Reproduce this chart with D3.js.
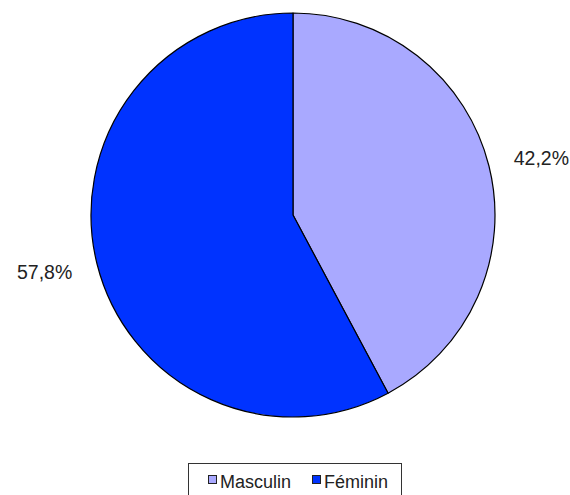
<!DOCTYPE html>
<html><head><meta charset="utf-8">
<script src="https://cdn.jsdelivr.net/npm/d3@7"></script>
<style>body{margin:0;background:#fff}svg{display:block}</style>
</head><body>
<script>
const categories = ["Masculin", "Féminin"];
const values = [42.2, 57.8];
const labels = ["42,2%", "57,8%"];
const colors = ["#a9a9ff", "#0033ff"];

const W = 570, H = 495, cx = 293, cy = 215, R = 202;
const svg = d3.select("body").append("svg").attr("width", W).attr("height", H);
const g = svg.append("g").attr("transform", `translate(${cx},${cy})`);
const data = categories.map((c, i) => ({cat: c, v: values[i], label: labels[i], color: colors[i]}));
const pie = d3.pie().sort(null).value(d => d.v);
const arcs = pie(data);
const arc = d3.arc().innerRadius(0).outerRadius(R);
g.selectAll("path").data(arcs).join("path")
  .attr("d", arc).attr("fill", d => d.data.color)
  .attr("stroke", "#000").attr("stroke-width", 1.2).attr("stroke-linejoin", "round");
const labelArc = d3.arc().innerRadius(256).outerRadius(256);
g.selectAll("text.lbl").data(arcs).join("text").attr("class", "lbl")
  .attr("transform", d => { const [x, y] = labelArc.centroid(d); return `translate(${x},${y * 0.92})`; })
  .attr("text-anchor", "middle").attr("dominant-baseline", "central")
  .attr("font-family", "Liberation Sans, Arial, sans-serif").attr("font-size", 19.5)
  .attr("fill", "#222").text(d => d.data.label);

// legend
const lg = svg.append("g");
lg.append("rect").attr("x", 188.5).attr("y", 463.5).attr("width", 213).attr("height", 40)
  .attr("fill", "#fff").attr("stroke", "#333").attr("stroke-width", 1);
const xs = d3.scalePoint().domain(categories).range([208, 312]);
const items = lg.selectAll("g.it").data(data).join("g").attr("class", "it")
  .attr("transform", d => `translate(${xs(d.cat)},0)`);
items.append("rect").attr("x", 0.5).attr("y", 475.5).attr("width", 8).attr("height", 8)
  .attr("fill", d => d.color).attr("stroke", "#222").attr("stroke-width", 1);
items.append("text").attr("x", 12).attr("y", 487.5)
  .attr("font-family", "Liberation Sans, Arial, sans-serif").attr("font-size", 18)
  .attr("fill", "#222").text(d => d.cat);
</script>
</body></html>
